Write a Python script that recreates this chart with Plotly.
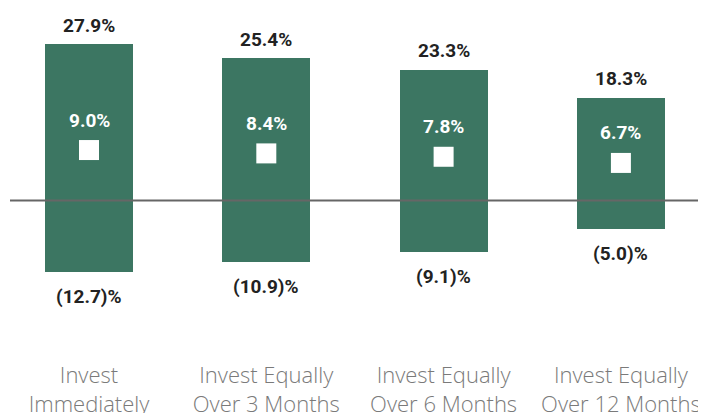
import plotly.graph_objects as go

categories = ["Invest<br>Immediately", "Invest Equally<br>Over 3 Months",
              "Invest Equally<br>Over 6 Months", "Invest Equally<br>Over 12 Months"]
high = [27.9, 25.4, 23.3, 18.3]
low = [-12.7, -10.9, -9.1, -5.0]
avg = [9.0, 8.4, 7.8, 6.7]

def fmt(v):
    return f"({abs(v):.1f})%" if v < 0 else f"{v:.1f}%"

xs = list(range(len(categories)))
green = "#3c7662"
lab_font = dict(family="Roboto, sans-serif", size=19, color="#222222", weight="bold")

fig = go.Figure()
fig.add_trace(go.Bar(x=xs, y=[h - l for h, l in zip(high, low)], base=low,
                     width=0.496, marker=dict(color=green, line=dict(width=0)),
                     hoverinfo="skip"))
fig.add_trace(go.Scatter(x=xs, y=avg, mode="markers",
                         marker=dict(symbol="square", size=20, color="white",
                                     line=dict(width=0))))

ann = []
for i in xs:
    ann.append(dict(x=i, y=high[i], text=fmt(high[i]), showarrow=False,
                    yanchor="middle", yshift=19, font=lab_font))
    ann.append(dict(x=i, y=low[i], text=fmt(low[i]), showarrow=False,
                    yanchor="middle", yshift=-25, font=lab_font))
    ann.append(dict(x=i, y=avg[i], text=fmt(avg[i]), showarrow=False,
                    yanchor="middle", yshift=30, font=dict(lab_font, color="white")))

fig.update_layout(
    width=698, height=405,
    margin=dict(l=0, r=0, t=0, b=63, autoexpand=False),
    paper_bgcolor="white", plot_bgcolor="white",
    showlegend=False,
    annotations=ann,
    bargap=0,
    xaxis=dict(range=[-0.4569, 3.4799], tickmode="array", tickvals=xs,
               ticktext=categories, showgrid=False, zeroline=False, showline=False,
               ticks="", ticklabelstandoff=10, automargin=False,
               tickfont=dict(family="Open Sans, Liberation Sans, sans-serif",
                             size=22, color="#7a7a7a", weight=300)),
    yaxis=dict(range=[-26.66, 34.33], showgrid=False, zeroline=False,
               showticklabels=False, showline=False, ticks="", automargin=False),
    shapes=[dict(type="line", xref="paper", yref="y", x0=2 / 698, x1=1, y0=0, y1=0,
                 line=dict(color="#666666", width=2), layer="above")],
)
fig.write_html("out.html")
